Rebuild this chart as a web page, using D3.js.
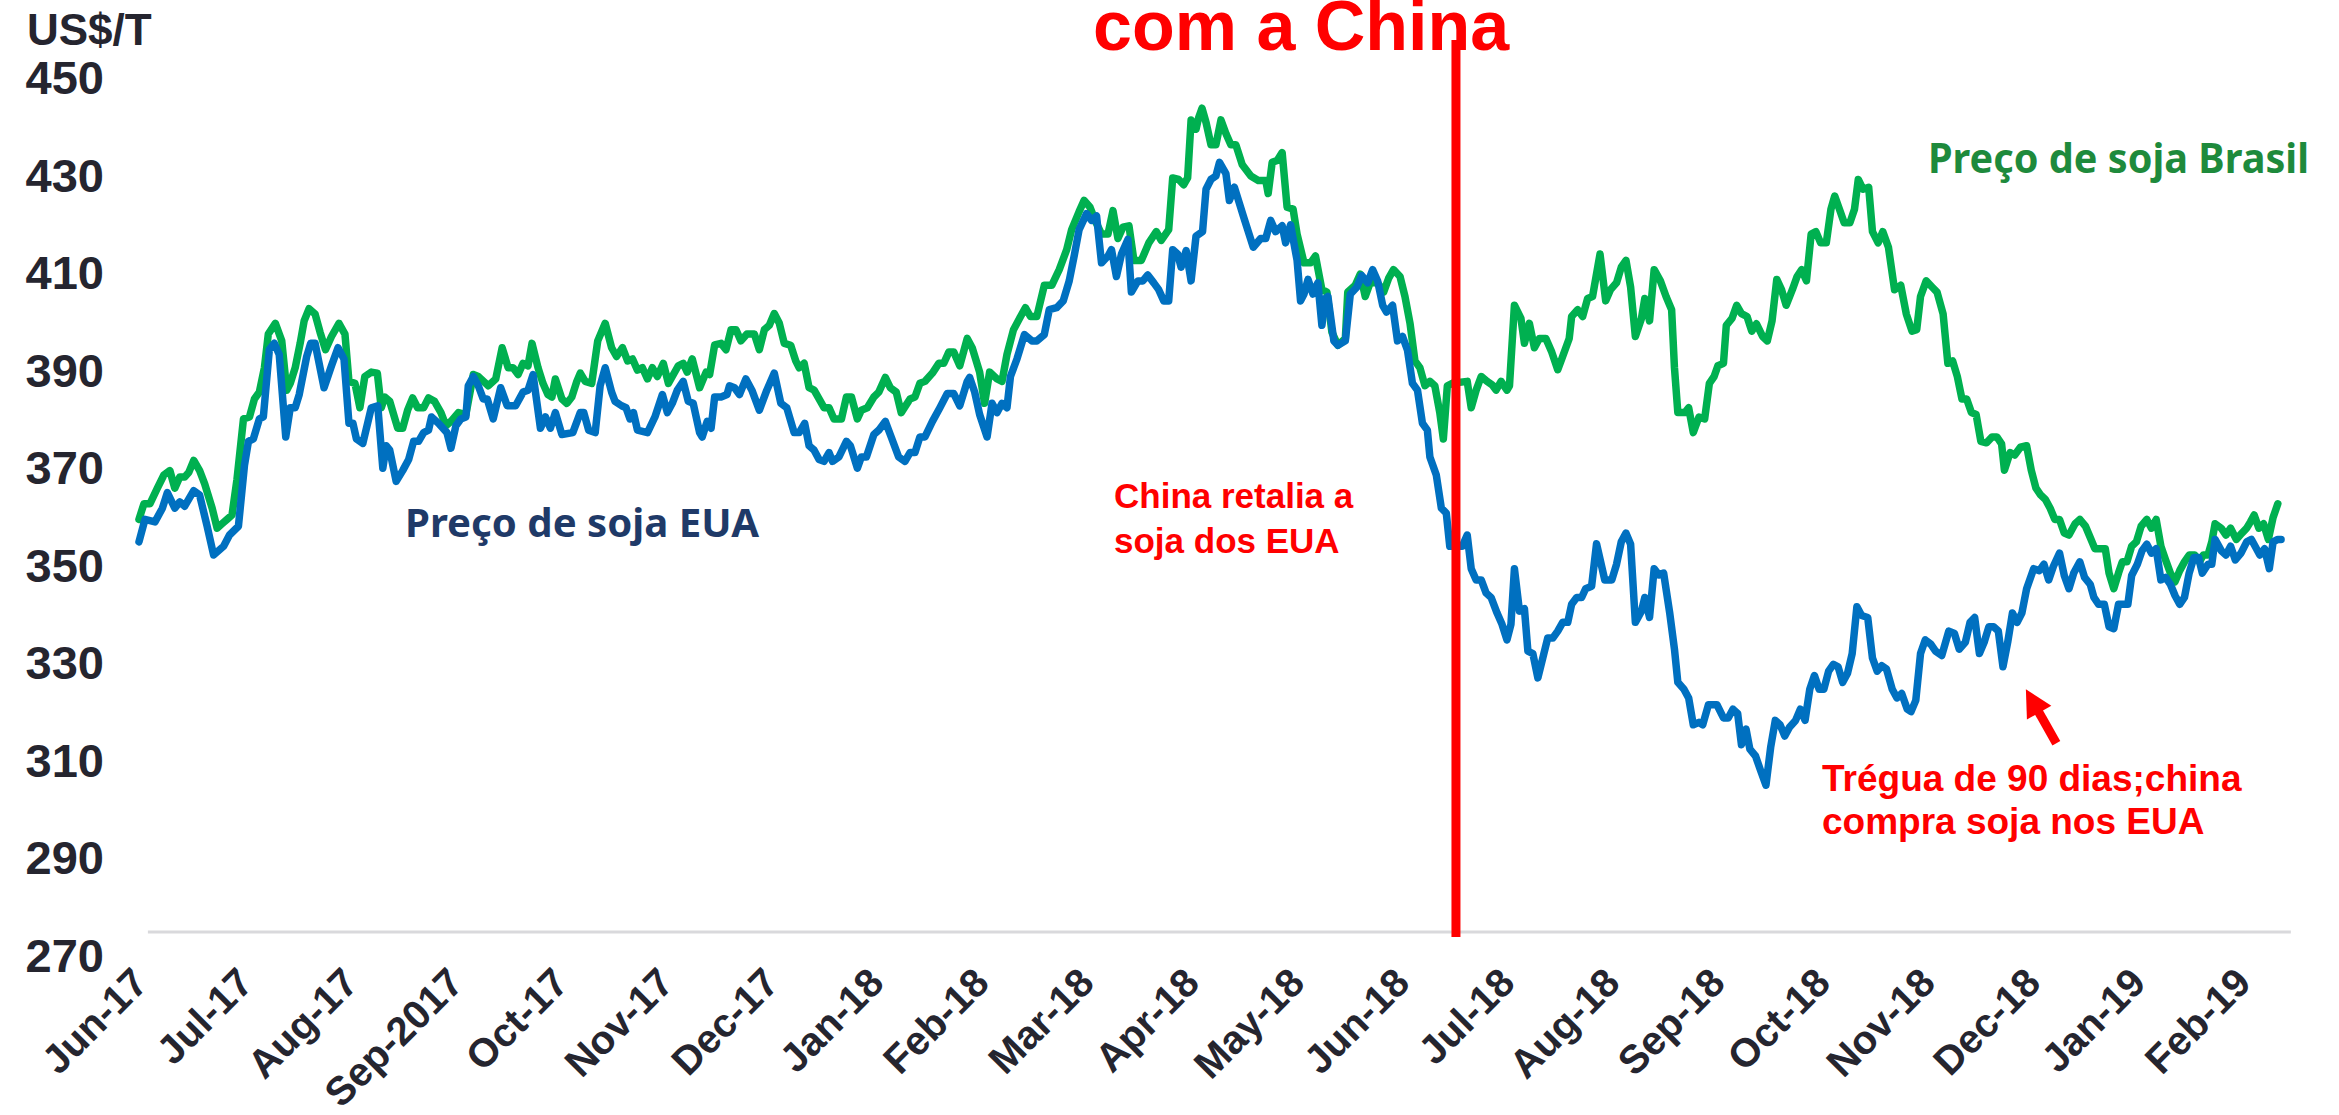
<!DOCTYPE html>
<html>
<head>
<meta charset="utf-8">
<script src="https://cdn.jsdelivr.net/npm/d3@7"></script>
<style>
  html, body { margin: 0; padding: 0; background: #fff; }
  svg { display: block; }
</style>
</head>
<body>
<svg id="chart" width="2339" height="1115"></svg>
<script>
// eixo x: posição em meses a partir de Jun-17 (0 = Jun-17, 20 = Feb-19)
const meses = ["Jun-17", "Jul-17", "Aug-17", "Sep-2017", "Oct-17", "Nov-17", "Dec-17",
  "Jan-18", "Feb-18", "Mar-18", "Apr-18", "May-18", "Jun-18", "Jul-18", "Aug-18",
  "Sep-18", "Oct-18", "Nov-18", "Dec-18", "Jan-19", "Feb-19"]

const yTicks = [270, 290, 310, 330, 350, 370, 390, 410, 430, 450]

// [mês, US$/T]
const precoBrasil = [
  [-0.105,359.3],[-0.058,362.5],[-0.001,362.5],[0.070,365.7],[0.132,368.4],[0.189,369.3],[0.236,365.7],[0.283,368.0],
  [0.330,368.0],[0.368,368.9],[0.416,371.4],[0.472,369.3],[0.520,366.6],[0.591,361.6],[0.638,357.5],[0.685,358.4],
  [0.733,359.3],[0.780,360.2],[0.827,367.5],[0.889,379.9],[0.946,380.3],[0.993,384.0],[1.040,385.4],[1.088,390.4],
  [1.125,397.3],[1.192,399.5],[1.253,395.9],[1.300,385.8],[1.334,387.2],[1.381,390.4],[1.428,395.4],[1.466,400.0],
  [1.513,402.5],[1.570,401.4],[1.617,397.7],[1.669,394.1],[1.726,396.8],[1.797,399.5],[1.854,397.3],[1.892,387.6],
  [1.949,387.2],[1.996,382.2],[2.043,388.6],[2.105,389.5],[2.162,389.3],[2.199,382.2],[2.233,384.4],[2.280,383.5],
  [2.356,378.0],[2.403,378.0],[2.450,381.7],[2.498,384.2],[2.545,382.2],[2.602,382.2],[2.649,384.2],[2.706,383.5],
  [2.767,381.2],[2.815,378.5],[2.862,379.4],[2.933,381.2],[3.004,380.8],[3.075,389.0],[3.122,388.6],[3.217,386.7],
  [3.288,388.1],[3.349,394.5],[3.406,390.4],[3.453,390.4],[3.501,389.0],[3.548,391.3],[3.595,390.8],[3.633,395.4],
  [3.690,390.4],[3.737,387.2],[3.784,384.9],[3.822,384.4],[3.855,388.1],[3.917,384.0],[3.964,383.1],[4.012,384.4],
  [4.059,387.6],[4.092,389.3],[4.139,387.6],[4.201,387.2],[4.258,395.9],[4.329,399.5],[4.390,394.5],[4.437,392.7],
  [4.494,394.5],[4.542,391.8],[4.589,392.2],[4.636,389.9],[4.683,390.4],[4.731,388.1],[4.778,390.4],[4.825,388.6],
  [4.882,391.3],[4.930,387.2],[4.967,388.6],[5.024,390.8],[5.071,391.3],[5.109,389.5],[5.157,392.2],[5.227,386.3],
  [5.289,389.5],[5.322,389.0],[5.370,395.1],[5.431,395.4],[5.478,394.1],[5.526,398.2],[5.573,398.2],[5.620,395.9],
  [5.677,397.3],[5.748,397.3],[5.795,394.1],[5.843,398.2],[5.890,399.1],[5.937,401.5],[5.985,399.5],[6.032,395.4],
  [6.093,395.0],[6.141,391.8],[6.174,390.4],[6.221,391.3],[6.268,386.3],[6.316,385.8],[6.363,384.0],[6.410,382.2],
  [6.458,382.2],[6.505,379.9],[6.576,379.9],[6.623,384.4],[6.671,384.4],[6.727,379.9],[6.765,381.7],[6.822,382.2],
  [6.884,384.4],[6.931,385.4],[6.993,388.4],[7.040,386.3],[7.097,385.4],[7.144,381.2],
  [7.228,384.0],[7.275,384.4],[7.322,387.2],[7.370,387.6],[7.441,389.3],[7.502,391.3],[7.549,391.3],[7.597,393.6],
  [7.644,393.6],[7.701,390.8],[7.772,396.4],[7.819,394.5],[7.890,389.5],[7.937,383.1],[7.985,389.5],[8.056,388.1],
  [8.103,387.6],[8.150,393.1],[8.212,398.2],[8.269,400.5],[8.325,402.7],[8.373,400.9],[8.434,400.9],[8.505,407.3],
  [8.576,407.3],[8.647,410.5],[8.718,414.6],[8.765,418.7],[8.836,422.4],[8.884,424.7],[8.940,423.3],[8.988,420.6],
  [9.049,417.8],[9.111,417.8],[9.158,422.6],[9.205,416.9],[9.253,419.2],[9.310,419.5],[9.357,412.4],[9.428,412.4],
  [9.499,416.0],[9.570,418.3],[9.617,416.5],[9.688,418.7],[9.726,429.3],[9.783,429.0],[9.830,427.9],[9.868,429.3],
  [9.901,441.2],[9.948,439.3],[9.972,441.6],[10.005,443.6],[10.043,440.7],[10.090,436.1],[10.137,436.1],[10.185,441.2],
  [10.232,438.4],[10.279,436.1],[10.327,436.1],[10.388,432.0],[10.469,429.7],[10.540,428.8],[10.611,428.8],[10.634,426.1],
  [10.672,432.5],[10.720,432.9],[10.767,434.5],[10.814,423.3],[10.871,422.9],[10.909,417.8],[10.975,411.9],[11.037,411.9],
  [11.084,413.3],[11.145,406.4],[11.193,405.9],[11.240,397.7],[11.297,395.0],[11.368,396.4],[11.391,405.9],[11.462,407.3],
  [11.510,409.6],[11.557,405.0],[11.604,407.8],[11.675,407.8],[11.732,405.9],[11.779,408.7],[11.826,410.5],[11.888,409.1],
  [11.935,405.0],[11.983,399.5],[12.030,391.8],[12.077,390.4],[12.125,386.7],[12.172,387.6],[12.219,386.7],[12.266,381.2],
  [12.300,375.8],[12.338,386.7],[12.385,387.2],[12.527,387.6],[12.565,382.2],[12.612,385.8],[12.660,388.6],[12.716,387.6],
  [12.764,386.9],[12.801,385.8],[12.849,387.6],[12.905,385.8],[12.929,386.7],[12.976,403.2],[13.038,400.5],[13.071,395.4],
  [13.118,399.5],[13.166,394.5],[13.213,396.4],[13.275,396.4],[13.331,393.6],[13.388,390.0],[13.426,392.2],[13.497,396.4],
  [13.520,400.9],[13.577,402.3],[13.625,400.9],[13.672,404.6],[13.719,405.0],
  [13.790,413.7],[13.844,404.1],[13.889,406.4],[13.947,407.8],[13.992,411.0],[14.037,412.4],[14.081,406.9],[14.126,396.8],
  [14.184,400.5],[14.216,404.6],[14.261,400.0],[14.305,410.5],[14.364,408.2],[14.418,405.0],[14.471,402.3],[14.498,390.4],
  [14.530,381.2],[14.597,381.2],[14.633,382.2],[14.677,377.1],[14.731,380.3],[14.785,379.9],[14.830,387.2],[14.875,388.6],
  [14.911,390.8],[14.964,391.3],[14.991,399.1],[15.045,400.5],[15.090,403.2],[15.135,401.5],[15.188,400.9],[15.233,397.9],
  [15.278,399.4],[15.336,396.8],[15.381,395.9],[15.426,400.0],[15.471,408.5],[15.516,406.4],[15.560,403.2],[15.619,406.4],
  [15.664,409.1],[15.708,410.5],[15.753,408.2],[15.798,417.8],[15.843,418.3],[15.888,416.0],[15.942,416.0],[15.986,422.9],
  [16.022,425.6],[16.067,422.9],[16.112,420.1],[16.166,420.1],[16.210,422.9],[16.246,429.0],[16.291,427.0],[16.345,427.4],
  [16.381,418.3],[16.435,416.0],[16.479,418.3],[16.533,415.1],[16.591,406.4],[16.650,407.3],[16.703,401.4],[16.757,397.9],
  [16.802,398.2],[16.838,405.0],[16.892,408.2],[16.950,406.9],[16.995,405.9],[17.053,401.4],[17.098,391.3],[17.143,391.8],
  [17.188,388.6],[17.232,384.0],[17.277,384.0],[17.322,381.2],[17.367,380.8],[17.412,375.3],[17.465,375.0],[17.519,376.2],
  [17.564,376.2],[17.609,374.8],[17.636,369.4],[17.690,373.0],[17.734,372.5],[17.788,374.1],[17.847,374.4],[17.891,369.4],
  [17.936,365.7],[17.981,364.3],[18.026,363.4],[18.071,361.6],[18.115,359.3],[18.160,359.3],[18.205,356.5],[18.250,356.1],
  [18.308,358.4],[18.353,359.3],[18.407,357.9],[18.452,355.6],[18.496,353.3],[18.550,353.3],[18.595,353.3],[18.631,348.3],
  [18.676,345.1],[18.721,348.3],[18.757,350.6],[18.801,350.6],[18.846,353.8],[18.891,354.7],[18.936,357.9],[18.990,359.3],
  [19.034,357.5],[19.079,359.3],[19.124,353.8],[19.169,351.0],[19.214,348.3],[19.258,346.5],[19.303,348.8],[19.348,350.6],
  [19.393,352.0],[19.447,352.0],[19.491,350.6],[19.527,352.0],[19.572,352.0],[19.608,354.7],[19.639,358.4],[19.698,357.5],
  [19.743,356.1],[19.787,357.5],[19.841,355.2],[19.895,356.5],[19.940,357.5],[19.976,358.8],[20.011,360.2],[20.056,357.5],
  [20.101,358.4],[20.146,355.2],[20.191,359.7],[20.236,362.5]
]

const precoEUA = [
  [-0.105,354.7],[-0.048,359.3],[0.047,358.8],[0.118,361.6],[0.165,364.8],[0.236,361.6],[0.283,362.9],[0.330,362.0],
  [0.416,365.2],[0.472,364.3],[0.543,357.9],[0.605,352.0],[0.700,353.8],[0.756,356.1],[0.841,357.9],[0.898,370.3],
  [0.936,375.3],[0.983,375.8],[1.040,379.9],[1.078,380.3],[1.135,394.1],[1.182,395.4],[1.229,393.1],[1.291,376.2],
  [1.334,382.2],[1.381,382.2],[1.419,384.9],[1.490,392.7],[1.528,395.4],[1.570,395.4],[1.655,386.3],[1.726,390.8],
  [1.788,394.5],[1.845,392.2],[1.892,379.0],[1.930,379.0],[1.963,375.8],[2.024,374.9],[2.105,382.2],[2.166,382.6],
  [2.214,369.8],[2.247,374.4],[2.280,373.5],[2.341,367.1],[2.403,369.3],[2.460,371.6],[2.507,375.3],[2.554,375.3],
  [2.602,377.1],[2.649,377.6],[2.677,380.3],[2.743,379.0],[2.824,377.1],[2.862,373.9],[2.909,378.5],[2.956,379.9],
  [3.004,380.3],[3.027,386.7],[3.075,388.6],[3.122,386.7],[3.169,384.0],[3.207,384.0],[3.264,379.9],[3.335,386.3],
  [3.397,382.6],[3.477,382.6],[3.548,385.4],[3.595,385.8],[3.643,389.0],[3.713,378.0],[3.761,380.3],[3.808,378.0],
  [3.855,381.2],[3.917,376.7],[4.021,377.1],[4.092,381.2],[4.125,381.2],[4.172,377.6],[4.234,377.1],[4.281,386.7],
  [4.329,390.4],[4.390,385.4],[4.423,383.5],[4.485,382.6],[4.527,382.2],[4.565,379.9],[4.598,381.2],[4.636,377.6],
  [4.731,377.1],[4.802,380.3],[4.873,384.9],[4.920,381.2],[4.967,383.1],[5.015,385.8],[5.071,387.6],[5.119,383.5],
  [5.166,383.1],[5.227,377.1],[5.251,376.2],[5.299,379.4],[5.336,378.0],[5.370,384.4],[5.431,384.4],[5.488,384.9],
  [5.511,386.7],[5.559,386.3],[5.606,384.9],[5.667,388.1],[5.724,385.8],[5.795,381.7],[5.866,385.8],[5.937,389.3],
  [5.999,383.1],[6.056,382.2],[6.126,377.1],[6.174,377.1],[6.226,379.0],[6.268,374.4],[6.316,373.5],[6.363,371.6],
  [6.410,371.2],[6.458,373.0],[6.491,371.2],[6.552,372.1],[6.623,375.3],[6.661,374.4],[6.727,369.8],[6.765,372.1],
  [6.813,372.1],[6.884,376.7],[6.931,377.6],[6.993,379.4],[7.049,376.2],[7.120,372.1],
  [7.180,371.2],[7.228,373.0],[7.275,373.0],[7.322,376.2],[7.370,376.2],[7.441,379.4],[7.512,382.2],[7.582,385.1],
  [7.644,385.1],[7.701,382.6],[7.772,387.6],[7.795,388.4],[7.843,385.4],[7.890,380.8],[7.961,376.2],[8.008,383.1],
  [8.056,381.2],[8.103,383.1],[8.150,382.2],[8.183,388.6],[8.245,392.2],[8.316,397.2],[8.387,395.9],[8.434,395.9],
  [8.505,397.2],[8.552,402.3],[8.623,402.7],[8.685,404.1],[8.742,408.2],[8.789,413.3],[8.836,418.7],[8.907,422.0],
  [8.955,420.6],[9.002,421.5],[9.049,411.9],[9.111,413.3],[9.144,414.6],[9.191,409.1],[9.239,413.7],[9.300,416.7],
  [9.333,405.9],[9.395,408.2],[9.442,408.2],[9.489,409.4],[9.546,407.8],[9.593,406.4],[9.641,404.1],[9.688,404.1],
  [9.726,414.6],[9.773,413.7],[9.806,411.0],[9.854,414.4],[9.901,408.2],[9.948,417.4],[10.010,418.3],[10.043,427.0],
  [10.090,429.0],[10.137,429.7],[10.171,432.5],[10.232,430.2],[10.265,424.7],[10.313,427.4],[10.398,421.5],[10.492,415.1],
  [10.563,416.9],[10.611,416.9],[10.658,420.6],[10.705,418.3],[10.767,419.5],[10.800,416.0],[10.847,419.7],[10.909,412.4],
  [10.942,404.1],[10.975,405.5],[11.013,408.5],[11.060,405.5],[11.107,407.8],[11.145,399.1],[11.178,404.6],[11.202,405.0],
  [11.259,395.9],[11.297,395.0],[11.368,395.9],[11.415,405.5],[11.477,406.9],[11.524,409.3],[11.581,407.8],[11.628,410.5],
  [11.675,408.2],[11.723,403.2],[11.760,401.8],[11.817,403.2],[11.864,395.9],[11.912,396.8],[11.959,394.0],[12.006,387.2],
  [12.054,385.8],[12.101,379.0],[12.148,377.6],[12.172,372.1],[12.233,368.4],[12.281,361.6],[12.328,360.6],[12.361,353.8],
  [12.480,353.8],[12.527,356.1],[12.565,349.2],[12.612,346.9],[12.660,346.9],[12.707,344.2],[12.754,343.3],[12.811,340.1],
  [12.858,337.8],[12.905,334.6],[12.943,337.8],[12.976,349.2],[13.024,340.5],[13.071,341.0],[13.104,332.3],[13.151,331.8],
  [13.199,326.8],[13.246,330.9],[13.293,335.0],[13.341,335.0],[13.388,336.4],[13.435,338.2],[13.483,338.2],[13.520,341.9],
  [13.568,343.3],[13.615,343.3],[13.653,345.1],[13.710,345.6],[13.757,354.3],
  [13.835,346.9],[13.902,346.9],[13.947,350.1],[13.992,354.7],[14.037,356.5],[14.081,354.2],[14.126,338.2],[14.184,340.5],
  [14.216,343.3],[14.261,339.2],[14.305,349.2],[14.350,347.9],[14.395,348.3],[14.453,340.1],[14.498,332.7],[14.530,325.9],
  [14.588,324.5],[14.633,322.7],[14.677,317.2],[14.731,317.7],[14.767,317.2],[14.821,321.3],[14.902,321.3],[14.964,318.6],
  [15.009,318.6],[15.054,320.4],[15.099,319.5],[15.135,313.1],[15.179,316.3],[15.215,312.2],[15.269,310.8],[15.314,308.0],
  [15.368,304.8],[15.413,312.6],[15.457,318.1],[15.502,317.2],[15.547,314.9],[15.592,316.7],[15.650,318.1],[15.695,320.4],
  [15.740,318.1],[15.785,324.5],[15.829,327.3],[15.874,324.5],[15.919,324.5],[15.964,328.2],[16.009,329.6],[16.054,329.1],
  [16.098,325.9],[16.143,327.7],[16.188,331.8],[16.233,341.4],[16.278,339.6],[16.336,339.2],[16.381,330.9],[16.426,328.2],
  [16.470,329.3],[16.515,328.6],[16.569,324.5],[16.614,322.7],[16.659,323.6],[16.712,320.4],[16.748,319.9],[16.793,322.2],
  [16.838,331.8],[16.883,334.6],[16.937,333.7],[16.981,332.3],[17.040,331.4],[17.107,336.4],[17.161,335.9],[17.206,332.7],
  [17.264,334.1],[17.309,338.2],[17.353,339.2],[17.398,331.8],[17.443,334.1],[17.488,337.3],[17.533,337.3],[17.578,336.4],
  [17.622,329.1],[17.667,334.1],[17.712,340.1],[17.757,338.2],[17.802,340.1],[17.847,345.1],[17.914,349.2],[17.968,348.8],
  [18.012,350.1],[18.057,346.9],[18.102,349.7],[18.160,352.4],[18.205,347.8],[18.250,345.1],[18.295,348.3],[18.353,350.6],
  [18.398,347.4],[18.452,346.0],[18.487,343.3],[18.532,341.9],[18.586,341.9],[18.631,337.3],[18.676,336.9],[18.721,341.9],
  [18.765,341.9],[18.810,341.9],[18.846,347.8],[18.900,350.1],[18.945,352.9],[18.990,354.2],[19.034,352.4],[19.079,353.3],
  [19.124,346.9],[19.169,347.4],[19.214,346.0],[19.258,343.7],[19.303,341.9],[19.348,343.3],[19.393,348.3],[19.438,351.5],
  [19.482,351.5],[19.518,348.3],[19.572,350.1],[19.608,350.1],[19.639,355.2],[19.698,352.9],[19.743,352.0],[19.787,353.8],
  [19.832,351.0],[19.886,352.4],[19.940,354.7],[19.985,355.2],[20.020,353.8],[20.065,352.0],[20.110,353.3],[20.155,349.2],
  [20.191,354.7],[20.236,355.2],[20.267,355.2]
]

const retaliacao = 12.42            // meados de jun/2018
const seta = { de: [18.13, 313.4], para: [17.84, 324.5] }

const arial = "'Liberation Sans', Arial, sans-serif"
const calibri = "'Noto Sans', 'Open Sans', sans-serif"
const tinta = "#25252f"

const svg = d3.select("#chart")
svg.append("rect").attr("width", 2339).attr("height", 1115).attr("fill", "#fff")

const x = d3.scaleLinear().domain([0, meses.length - 1]).range([150, 2253])
const y = d3.scaleLinear().domain([270, 450]).range([955, 77])

// linha do eixo
svg.append("line")
    .attr("x1", x(-0.02)).attr("x2", x(20.36))
    .attr("y1", 932).attr("y2", 932)
    .attr("stroke", "#d9d9dc")
    .attr("stroke-width", 3)

// rótulos do eixo y
svg.selectAll("text.ytick")
    .data(yTicks)
    .enter()
    .append("text")
    .attr("class", "ytick")
    .attr("x", 104)
    .attr("y", d => y(d) + 17)
    .attr("text-anchor", "end")
    .attr("font-family", arial)
    .attr("font-weight", "bold")
    .attr("font-size", 47)
    .attr("fill", tinta)
    .text(d => d)

svg.append("text")
    .attr("x", 27).attr("y", 45)
    .attr("font-family", arial)
    .attr("font-weight", "bold")
    .attr("font-size", 44)
    .attr("fill", tinta)
    .text("US$/T")

// rótulos do eixo x, girados
svg.selectAll("text.xtick")
    .data(meses)
    .enter()
    .append("text")
    .attr("class", "xtick")
    .attr("transform", (d, i) => `translate(${x(i)},985) rotate(-45)`)
    .attr("text-anchor", "end")
    .attr("font-family", arial)
    .attr("font-weight", "bold")
    .attr("font-size", 40)
    .attr("fill", tinta)
    .text(d => d)

// séries
const line = d3.line()
    .x(d => x(d[0]))
    .y(d => y(d[1]))

const series = [
    { data: precoBrasil, color: "#00b050" },
    { data: precoEUA, color: "#0070c0" }
]

svg.selectAll("path.serie")
    .data(series)
    .enter()
    .append("path")
    .attr("class", "serie")
    .attr("d", d => line(d.data))
    .attr("fill", "none")
    .attr("stroke", d => d.color)
    .attr("stroke-width", 7.5)
    .attr("stroke-linejoin", "round")
    .attr("stroke-linecap", "round")

// título (cortado no topo, como no original)
svg.append("text")
    .attr("x", 1093).attr("y", 50)
    .attr("font-family", arial)
    .attr("font-weight", "bold")
    .attr("font-size", 70)
    .attr("fill", "#ff0000")
    .text("com a China")

// linha vertical da retaliação
svg.append("line")
    .attr("x1", x(retaliacao)).attr("x2", x(retaliacao))
    .attr("y1", 40).attr("y2", 937)
    .attr("stroke", "#ff0000")
    .attr("stroke-width", 9)

// legendas das séries
svg.append("text")
    .attr("x", 405).attr("y", 537)
    .attr("font-family", calibri)
    .attr("font-weight", "bold")
    .attr("font-size", 40)
    .attr("textLength", 354)
    .attr("lengthAdjust", "spacingAndGlyphs")
    .attr("fill", "#1f3a68")
    .text("Preço de soja EUA")

svg.append("text")
    .attr("x", 1928).attr("y", 173)
    .attr("font-family", calibri)
    .attr("font-weight", "bold")
    .attr("font-size", 42)
    .attr("textLength", 381)
    .attr("lengthAdjust", "spacingAndGlyphs")
    .attr("fill", "#1e8a3c")
    .text("Preço de soja Brasil")

// anotações em vermelho
const notas = [
    { x: 1114, y: 508, size: 35, text: "China retalia a" },
    { x: 1114, y: 553, size: 35, text: "soja dos EUA" },
    { x: 1822, y: 791, size: 37, text: "Trégua de 90 dias;china" },
    { x: 1822, y: 834, size: 37, text: "compra soja nos EUA" }
]

svg.selectAll("text.nota")
    .data(notas)
    .enter()
    .append("text")
    .attr("class", "nota")
    .attr("x", d => d.x)
    .attr("y", d => d.y)
    .attr("font-family", arial)
    .attr("font-weight", "bold")
    .attr("font-size", d => d.size)
    .attr("fill", "#ff0000")
    .text(d => d.text)

// seta
const p0 = [x(seta.de[0]), y(seta.de[1])]
const p1 = [x(seta.para[0]), y(seta.para[1])]
const dx = p1[0] - p0[0], dy = p1[1] - p0[1]
const len = Math.hypot(dx, dy)
const ux = dx / len, uy = dy / len
const headLen = 27, headW = 14
const base = [p1[0] - ux * headLen, p1[1] - uy * headLen]

svg.append("line")
    .attr("x1", p0[0]).attr("y1", p0[1])
    .attr("x2", base[0] + ux * 2).attr("y2", base[1] + uy * 2)
    .attr("stroke", "#ff0000")
    .attr("stroke-width", 9)

svg.append("polygon")
    .attr("points", [
        p1,
        [base[0] - uy * headW, base[1] + ux * headW],
        [base[0] + uy * headW, base[1] - ux * headW]
    ].map(p => p.join(",")).join(" "))
    .attr("fill", "#ff0000")
</script>
</body>
</html>
